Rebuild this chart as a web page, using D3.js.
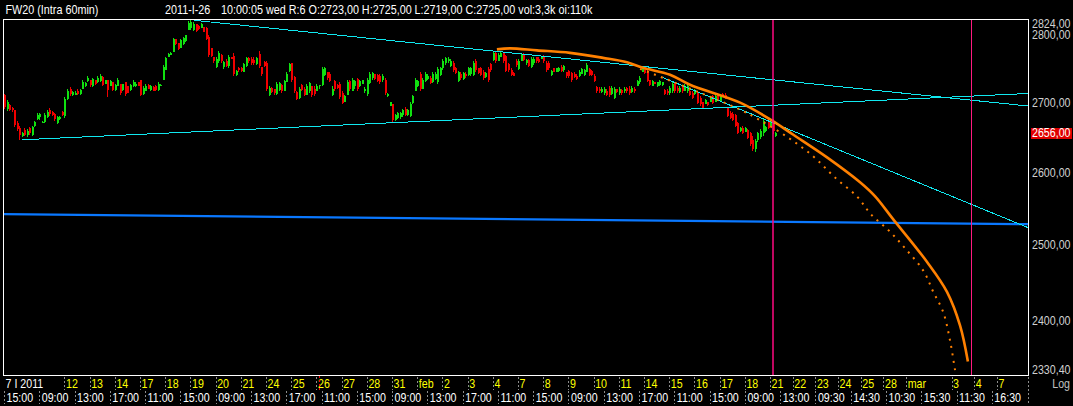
<!DOCTYPE html>
<html><head><meta charset="utf-8">
<script src="https://cdn.jsdelivr.net/npm/d3@7"></script>
<style>
html,body{margin:0;padding:0;background:#000;overflow:hidden;}
svg{display:block;}
text{font-family:"Liberation Sans",Arial,sans-serif;font-size:13px;}
</style></head><body>
<svg id="c" width="1073" height="406"></svg>
<script>
// ---------- DATA ----------
const headerTitle = "FW20 (Intra 60min)";
const headerDate = "2011-I-26";
const headerInfo = "10:00:05 wed R:6 O:2723,00 H:2725,00 L:2719,00 C:2725,00 vol:3,3k oi:110k";

// session (day) labels along the time axis, with number of bar slots per session
const sessionLabels = ["7 I 2011","","","12","13","14","17","18","19","20","21","24","25","26","27","28","31","feb","2","3","4","7","8","9","10","11","14","15","16","17","18","21","22","23","24","25","28","mar","","3","4","7",""];
const sessionBars = [4,10,10, 10,10,10,10,10,10,10,10,10,10, 10,10,10,10,10,10,10,10,10,10, 10,10,10,10,10,10,10,10, 9,9,9,9,9,9,9,9,9,9,9,9];

// time labels (one every 14 bar slots)
const timeLabels = ["15:00","09:00","13:00","17:00","11:00","15:00","09:00","13:00","17:00","11:00","15:00","09:00","13:00","17:00","11:00","15:00","09:00","13:00","17:00","11:00","15:00","09:00","13:00","09:30","14:30","10:30","15:30","11:30","16:30"];
const timeLabelEvery = 14;

// price axis ticks (log scale)
const priceTicks = [2824, 2800, 2700, 2600, 2500, 2400, 2330.4];
const priceDomain = [2330.4, 2824];

// hourly bars [open, high, low, close] per session
const jan07 = [[2710,2712,2690,2693],[2690,2703,2687,2700],[2696,2697,2687,2689],[2692,2693,2686,2688]];
const jan10 = [[2688,2689,2664,2667],[2670,2673,2658,2661],[2663,2666,2646,2652],[2651,2657,2650,2656],[2660,2663,2651,2653],[2652,2661,2650,2659],[2662,2664,2653,2655],[2653,2666,2651,2664],[2665,2673,2664,2671],[2675,2684,2674,2682]];
const jan11 = [[2678,2684,2674,2683],[2671,2673,2670,2672],[2672,2684,2670,2682],[2678,2688,2677,2686],[2689,2691,2680,2683],[2686,2687,2680,2681],[2683,2684,2673,2675],[2670,2680,2668,2678],[2676,2680,2674,2679],[2686,2687,2680,2682]];
const jan12 = [[2680,2707,2677,2705],[2704,2719,2703,2716],[2720,2722,2709,2712],[2710,2716,2709,2715],[2711,2716,2710,2714],[2717,2719,2710,2712],[2712,2720,2711,2718],[2720,2732,2719,2729],[2723,2730,2722,2728],[2731,2738,2729,2736]];
const jan13 = [[2733,2733,2722,2725],[2724,2736,2722,2734],[2733,2733,2725,2727],[2729,2738,2728,2736],[2731,2741,2730,2739],[2737,2738,2723,2725],[2727,2733,2727,2732],[2733,2733,2707,2718],[2724,2733,2723,2731],[2729,2729,2716,2718]];
const jan14 = [[2718,2726,2717,2725],[2724,2735,2723,2733],[2726,2726,2711,2713],[2718,2727,2717,2726],[2729,2729,2709,2712],[2723,2723,2713,2714],[2718,2726,2717,2725],[2724,2732,2722,2730],[2723,2729,2722,2727],[2729,2729,2723,2724]];
const jan17 = [[2733,2733,2709,2711],[2712,2723,2711,2721],[2716,2726,2716,2724],[2725,2726,2719,2720],[2718,2725,2717,2724],[2722,2723,2716,2717],[2724,2725,2717,2718],[2718,2729,2716,2727],[2723,2726,2723,2725],[2733,2755,2733,2752]];
const jan18 = [[2748,2767,2748,2765],[2766,2773,2766,2771],[2770,2774,2770,2773],[2774,2795,2774,2793],[2793,2794,2785,2786],[2788,2788,2777,2779],[2780,2794,2780,2792],[2786,2797,2785,2795],[2790,2800,2789,2799],[2807,2821,2807,2818]];
const jan19 = [[2810,2822,2807,2820],[2808,2819,2806,2816],[2816,2816,2804,2806],[2813,2815,2807,2809],[2810,2818,2810,2816],[2812,2812,2804,2805],[2810,2812,2792,2794],[2797,2800,2766,2769],[2780,2780,2766,2768],[2767,2767,2758,2760]];
const jan20 = [[2752,2766,2751,2763],[2760,2776,2758,2773],[2770,2771,2758,2760],[2752,2761,2749,2759],[2761,2763,2752,2754],[2754,2770,2751,2767],[2767,2767,2763,2764],[2768,2773,2738,2742],[2740,2748,2739,2746],[2751,2752,2745,2747]];
const jan21 = [[2750,2752,2744,2746],[2745,2758,2744,2756],[2754,2767,2752,2765],[2765,2766,2758,2760],[2764,2767,2755,2757],[2762,2766,2755,2757],[2756,2767,2755,2765],[2771,2776,2751,2753],[2752,2752,2739,2741],[2759,2760,2752,2754]];
const jan24 = [[2758,2760,2716,2720],[2711,2723,2709,2721],[2721,2722,2714,2715],[2719,2720,2711,2713],[2712,2729,2711,2726],[2718,2730,2716,2728],[2725,2726,2714,2716],[2716,2733,2716,2731],[2730,2744,2729,2742],[2746,2758,2745,2756]];
const jan25 = [[2757,2758,2729,2733],[2737,2739,2714,2717],[2715,2716,2703,2705],[2706,2722,2704,2719],[2725,2727,2716,2718],[2720,2722,2709,2711],[2711,2726,2711,2723],[2716,2730,2714,2728],[2723,2723,2707,2710],[2720,2723,2709,2712]];
const jan26 = [[2716,2726,2716,2724],[2723,2725,2719,2725],[2725,2752,2723,2749],[2740,2752,2738,2750],[2745,2745,2733,2735],[2741,2745,2729,2731],[2710,2723,2709,2720],[2731,2733,2716,2719],[2725,2727,2719,2721],[2727,2729,2704,2707]];
const jan27 = [[2713,2716,2697,2699],[2701,2711,2701,2709],[2711,2733,2711,2730],[2731,2733,2716,2719],[2717,2736,2716,2733],[2724,2733,2720,2731],[2734,2736,2716,2719],[2723,2733,2722,2731],[2726,2733,2726,2732],[2716,2722,2714,2720]];
const jan28 = [[2712,2736,2709,2733],[2728,2744,2726,2741],[2736,2745,2733,2743],[2741,2741,2732,2734],[2740,2741,2729,2731],[2739,2741,2726,2729],[2732,2741,2730,2739],[2733,2735,2711,2713],[2709,2714,2707,2712],[2695,2701,2694,2700]];
const jan31 = [[2698,2698,2671,2674],[2674,2683,2673,2681],[2677,2686,2676,2684],[2678,2686,2676,2684],[2681,2690,2678,2688],[2690,2693,2680,2682],[2681,2690,2680,2688],[2680,2701,2678,2697],[2699,2711,2698,2709],[2716,2735,2716,2733]];
const feb01 = [[2724,2733,2722,2731],[2741,2744,2716,2720],[2720,2736,2719,2733],[2731,2744,2730,2741],[2734,2741,2732,2739],[2736,2738,2726,2728],[2729,2744,2728,2741],[2734,2744,2733,2742],[2730,2752,2727,2749],[2740,2752,2738,2750]];
const feb02 = [[2750,2763,2748,2761],[2758,2767,2755,2765],[2760,2766,2758,2764],[2754,2763,2752,2760],[2758,2760,2745,2747],[2750,2752,2741,2743],[2731,2746,2729,2744],[2741,2744,2733,2735],[2734,2745,2733,2743],[2742,2744,2736,2738]];
const feb03 = [[2740,2752,2738,2750],[2742,2752,2739,2750],[2740,2760,2738,2757],[2760,2763,2744,2747],[2750,2751,2741,2743],[2750,2752,2738,2740],[2745,2748,2733,2736],[2737,2745,2736,2743],[2749,2752,2730,2733],[2756,2758,2745,2747]];
const feb04 = [[2762,2774,2760,2772],[2772,2774,2758,2760],[2760,2773,2760,2770],[2766,2774,2766,2772],[2772,2773,2758,2761],[2768,2770,2744,2746],[2756,2758,2745,2747],[2748,2751,2738,2740],[2743,2745,2738,2739],[2760,2763,2752,2755]];
const feb07 = [[2749,2763,2748,2760],[2760,2773,2760,2770],[2771,2773,2760,2762],[2757,2763,2755,2762],[2762,2763,2752,2754],[2752,2766,2751,2764],[2757,2766,2755,2764],[2766,2767,2758,2760],[2764,2766,2757,2759],[2764,2767,2763,2766]];
const feb08 = [[2768,2770,2758,2760],[2758,2760,2745,2747],[2757,2760,2748,2750],[2740,2748,2739,2746],[2750,2751,2744,2745],[2745,2751,2744,2750],[2746,2752,2744,2751],[2752,2755,2744,2746],[2747,2755,2745,2753],[2744,2745,2736,2738]];
const feb09 = [[2746,2748,2736,2739],[2743,2745,2730,2733],[2742,2744,2736,2737],[2739,2741,2733,2734],[2738,2748,2737,2745],[2742,2751,2741,2749],[2740,2749,2738,2747],[2745,2758,2744,2755],[2749,2751,2738,2740],[2746,2748,2738,2740]];
const feb10 = [[2739,2741,2729,2731],[2722,2723,2714,2716],[2720,2722,2714,2716],[2715,2722,2714,2720],[2713,2722,2711,2720],[2717,2719,2709,2711],[2721,2723,2707,2710],[2712,2723,2711,2721],[2706,2722,2704,2719],[2719,2719,2714,2715]];
const feb11 = [[2714,2722,2711,2719],[2718,2719,2711,2713],[2716,2722,2714,2720],[2721,2722,2714,2716],[2720,2723,2711,2713],[2715,2723,2714,2721],[2720,2722,2714,2716],[2723,2733,2723,2731],[2729,2738,2726,2736],[2744,2751,2744,2749]];
const feb14 = [[2749,2751,2741,2743],[2746,2748,2729,2731],[2733,2733,2723,2725],[2724,2733,2723,2731],[2730,2730,2726,2727],[2723,2730,2722,2729],[2725,2733,2723,2731],[2725,2730,2723,2729],[2718,2719,2711,2712],[2717,2719,2711,2713]];
const feb15 = [[2713,2723,2711,2721],[2716,2729,2714,2727],[2727,2729,2714,2716],[2721,2723,2714,2716],[2715,2723,2714,2721],[2722,2723,2714,2716],[2717,2726,2716,2724],[2716,2726,2714,2724],[2717,2719,2709,2711],[2714,2716,2704,2706]];
const feb16 = [[2712,2719,2711,2717],[2714,2716,2697,2699],[2706,2709,2694,2697],[2700,2701,2690,2691],[2697,2704,2697,2703],[2700,2701,2694,2696],[2701,2709,2700,2707],[2709,2711,2697,2699],[2701,2711,2701,2709],[2709,2711,2704,2705]];
const feb17 = [[2701,2709,2700,2707],[2712,2714,2707,2708],[2711,2714,2704,2705],[2692,2693,2678,2680],[2684,2687,2676,2677],[2683,2686,2673,2674],[2681,2683,2664,2666],[2670,2671,2654,2656],[2658,2664,2657,2663],[2663,2666,2654,2656]];
const feb18 = [[2657,2664,2657,2662],[2660,2661,2647,2649],[2655,2657,2637,2640],[2646,2651,2630,2633],[2633,2647,2629,2644],[2645,2657,2643,2655],[2650,2661,2647,2659],[2655,2676,2651,2673],[2659,2666,2657,2664],[2673,2676,2661,2663]];
const feb21 = [[2666,2673,2664,2671],[2672,2676,2654,2658],[2651,2657,2650,2656]];
const sessionsData = [jan07,jan10,jan11,jan12,jan13,jan14,jan17,jan18,jan19,jan20,jan21,jan24,jan25,jan26,jan27,jan28,jan31,feb01,feb02,feb03,feb04,feb07,feb08,feb09,feb10,feb11,feb14,feb15,feb16,feb17,feb18,feb21];

// drawn trend lines: [bar slot, price]
const supportLine    = [[7, 2645.8], [406.3, 2712.7]];
const resistanceLine = [[75.4, 2822.0], [406.3, 2694.5]];
const steepLine      = [[261.5, 2736.0], [406.3, 2523.4]];
const blueLine       = [[-0.4, 2541.7], [406.3, 2528.0]];
const orangeArc = [[195.6,2778.1],[200.8,2779.6],[211.5,2776.6],[224.6,2772.9],[237.7,2765.4],[247.2,2758.8],[253.6,2750.6],[264.3,2740.3],[272.2,2725.6],[292.1,2699.4],[304.8,2673.4],[313.1,2653.3],[326.6,2620.8],[339.7,2585.8],[345.6,2566.5],[352.8,2534.9],[366.3,2477.0],[374.2,2437.4],[379.4,2393.3],[382.5,2347.4]];
const orangeDotted = [[252.4,2749.1],[276.2,2713.9],[292.1,2689.2],[298.8,2676.3],[310.7,2650.1],[321.0,2622.6],[329.8,2592.3],[338.5,2566.0],[344.0,2541.7],[351.6,2517.7],[357.8,2494.4],[364.8,2465.4],[368.8,2437.0],[372.7,2410.9],[375.4,2374.4],[377.4,2336.5],[378.2,2322.0]];
const todaySlot = 305;      // magenta marker
const futureMarkSlot = 384; // thin marker
const cursorSlot = 125;     // 2011-I-26 10:00

// ---------- CHART ----------
const W = 1073, H = 406;
const P = {left: 3, top: 19, right: 1028, bottom: 375};
const x = d3.scaleLinear().domain([0, 406]).range([4, 4 + 406 * 2.52]);
const y = d3.scaleLog().domain(priceDomain).range([P.bottom, P.top]);

const bars = [];
sessionsData.forEach(s => s.forEach(b => bars.push({i: bars.length, o: b[0], h: b[1], l: b[2], c: b[3]})));

const svg = d3.select("#c");
svg.append("rect").attr("width", W).attr("height", H).attr("fill", "#000");

// narrow text helper (condensed look of the original bitmap font)
function txt(g, tx, ty, s, fill, anchor, sx) {
  return g.append("text").attr("transform", `translate(${tx},${ty}) scale(${sx || 0.82},1)`)
    .attr("text-anchor", anchor || "start").attr("fill", fill).text(s);
}

const defs = svg.append("defs");
defs.append("clipPath").attr("id", "clip").append("rect")
  .attr("x", P.left + 1).attr("y", P.top + 1).attr("width", P.right - P.left - 1).attr("height", P.bottom - P.top - 1);

const plot = svg.append("g").attr("clip-path", "url(#clip)");

// candles
const up = "#10e010", down = "#f00000";
const cg = plot.append("g").attr("shape-rendering", "crispEdges");
bars.forEach(b => {
  const px = Math.round(x(b.i));
  const col = b.c >= b.o ? up : down;
  cg.append("rect").attr("x", px).attr("width", 1)
    .attr("y", y(b.h)).attr("height", Math.max(1, y(b.l) - y(b.h))).attr("fill", col);
  const top = y(Math.max(b.o, b.c)), bot = y(Math.min(b.o, b.c));
  cg.append("rect").attr("x", px).attr("width", 2)
    .attr("y", top).attr("height", Math.max(1, bot - top)).attr("fill", col);
});

const line = d3.line().x(d => x(d[0])).y(d => y(d[1]));

// blue line
plot.append("path").attr("d", line(blueLine)).attr("fill", "none")
  .attr("stroke", "#0a78ff").attr("stroke-width", 2.2);

// cyan trend lines
[supportLine, resistanceLine, steepLine].forEach(l => {
  plot.append("path").attr("d", line(l)).attr("fill", "none")
    .attr("stroke", "#10e8f0").attr("stroke-width", 1).attr("shape-rendering", "crispEdges");
});

// orange curves
const curveLine = d3.line().x(d => x(d[0])).y(d => y(d[1])).curve(d3.curveCatmullRom.alpha(0.5));
plot.append("path").attr("d", curveLine(orangeDotted)).attr("fill", "none")
  .attr("stroke", "#ff8000").attr("stroke-width", 2).attr("stroke-dasharray", "2,5.5");
plot.append("path").attr("d", curveLine(orangeArc)).attr("fill", "none")
  .attr("stroke", "#ff8000").attr("stroke-width", 2.6);

// vertical markers
plot.append("line").attr("x1", Math.round(x(todaySlot))).attr("x2", Math.round(x(todaySlot)))
  .attr("y1", P.top).attr("y2", P.bottom).attr("stroke", "#ff0a80").attr("stroke-width", 1.5);
plot.append("line").attr("x1", Math.round(x(futureMarkSlot)) - 0.5).attr("x2", Math.round(x(futureMarkSlot)) - 0.5)
  .attr("y1", P.top).attr("y2", P.bottom).attr("stroke", "#ff1a80").attr("stroke-width", 1);

// frame
svg.append("rect").attr("x", P.left + 0.5).attr("y", P.top + 0.5)
  .attr("width", P.right - P.left).attr("height", P.bottom - P.top)
  .attr("fill", "none").attr("stroke", "#ffffff").attr("stroke-width", 1);

// header
txt(svg, 5.5, 14, headerTitle, "#ffffff", "start", 0.83);
txt(svg, 165, 14, headerDate, "#ffffff", "start", 0.83);
txt(svg, 221, 14, headerInfo, "#ffffff", "start", 0.83);

// price axis labels
const fmt = v => d3.format(".2f")(v).replace(".", ",");
priceTicks.forEach(v => {
  const ty = Math.min(374, Math.max(28, y(v) + 4.5));
  txt(svg, 1032, ty, fmt(v), "#d0d0d0");
});
const last = bars[bars.length - 1].c;
const ly = y(last);
svg.append("rect").attr("x", 1031).attr("y", Math.round(ly) - 5).attr("width", 41).attr("height", 11).attr("fill", "#e00000");
txt(svg, 1032, ly + 4.4, fmt(last), "#ffffff");

// time axis
const ax = svg.append("g");
let start = 0;
sessionLabels.forEach((lab, k) => {
  if (lab !== "") {
    const sx = Math.round(x(start)) + 0.5;
    if (k > 0) ax.append("line").attr("x1", sx).attr("x2", sx).attr("y1", 377).attr("y2", 390)
      .attr("stroke", "#8c8c8c").attr("stroke-dasharray", "2,2");
    txt(ax, x(start) + 1.5, 387.5, lab, k === 0 ? "#ffffff" : "#ffff00");
  }
  start += sessionBars[k];
});
timeLabels.forEach((lab, k) => {
  const slot = k * timeLabelEvery;
  const sx = Math.round(x(slot)) + 0.5;
  ax.append("line").attr("x1", sx).attr("x2", sx).attr("y1", 391).attr("y2", 404)
    .attr("stroke", "#8c8c8c").attr("stroke-dasharray", "2,2");
  txt(ax, x(slot) + 2.5, 401.5, lab, "#ffffff");
});
ax.append("line").attr("x1", P.right + 0.5).attr("x2", P.right + 0.5).attr("y1", 377).attr("y2", 404)
  .attr("stroke", "#8c8c8c").attr("stroke-dasharray", "2,2");
// cursor marker on the axis
const cx = Math.round(x(cursorSlot)) + 0.5;
ax.append("line").attr("x1", cx).attr("x2", cx).attr("y1", 376).attr("y2", 390)
  .attr("stroke", "#ff0000").attr("stroke-dasharray", "2,2");
txt(svg, 1070, 388, "Log", "#c0c0c0", "end");
</script>
</body></html>
